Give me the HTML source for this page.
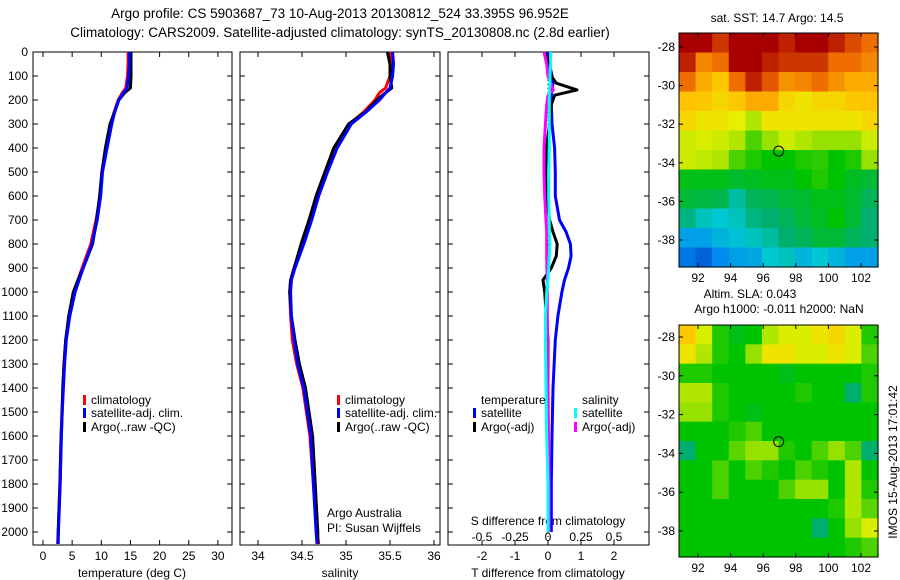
<!DOCTYPE html>
<html><head><meta charset="utf-8"><style>
body{margin:0;background:#fff;}
svg{display:block;font-family:"Liberation Sans",sans-serif;}
</style></head><body>
<svg id="fig" width="900" height="580" viewBox="0 0 900 580">
<text x="340" y="18" font-size="13.5" text-anchor="middle">Argo profile: CS 5903687_73 10-Aug-2013 20130812_524 33.395S 96.952E</text>
<text x="340" y="37" font-size="13.5" text-anchor="middle">Climatology: CARS2009. Satellite-adjusted climatology: synTS_20130808.nc (2.8d earlier)</text>
<text x="777" y="22" font-size="12" text-anchor="middle">sat. SST: 14.7 Argo: 14.5</text>
<text x="750" y="298" font-size="12" text-anchor="middle">Altim. SLA: 0.043</text>
<text x="779" y="313" font-size="12" text-anchor="middle">Argo h1000: -0.011 h2000: NaN</text>
<text transform="translate(897,462) rotate(-90)" font-size="12" text-anchor="middle">IMOS 15-Aug-2013 17:01:42</text>
<g id="layer"></g>
</svg>
<script>
// ---- data ----
const depthTicks=[0,100,200,300,400,500,600,700,800,900,1000,1100,1200,1300,1400,1500,1600,1700,1800,1900,2000];
const tempTicks=[0,5,10,15,20,25,30];
const salTicks=[34,34.5,35,35.5,36];
const tdiffTicks=[-2,-1,0,1,2];
const sdiffTicks=[-0.5,-0.25,0,0.25,0.5];
const sdiffTickLabels=["-0.5","-0.25","0","0.25","0.5"];
const lonTicks=[92,94,96,98,100,102];
const latTicks=[-28,-30,-32,-34,-36,-38];

const profDepth=[0,50,100,150,170,200,250,300,400,500,600,700,800,900,950,1000,1100,1200,1300,1400,1500,1600,1800,2000,2050];
const tempClim=[14.6,14.6,14.5,14.2,13.6,12.9,12.2,11.6,10.8,10.1,9.8,9.1,8.2,6.7,6.0,5.3,4.5,3.9,3.6,3.4,3.25,3.1,2.9,2.6,2.5];
const tempSat=[14.8,14.8,14.7,14.4,13.8,13.0,12.3,11.8,11.0,10.2,9.9,9.3,8.4,6.9,6.2,5.5,4.6,4.0,3.7,3.5,3.3,3.15,2.95,2.65,2.55];
const tempArgo=[15.1,15.1,15.1,15.0,14.0,13.0,12.3,11.5,10.7,10.1,9.7,9.2,8.5,6.9,6.0,5.2,4.4,3.9,3.6,3.4,3.3,3.1,2.9,2.6,2.6];
const salClim=[35.5,35.52,35.5,35.45,35.38,35.33,35.2,35.04,34.87,34.77,34.67,34.59,34.5,34.41,34.37,34.36,34.37,34.39,34.44,34.51,34.55,34.59,34.63,34.67,34.69];
const salSat=[35.53,35.54,35.53,35.5,35.45,35.38,35.23,35.06,34.9,34.79,34.69,34.61,34.52,34.42,34.38,34.37,34.38,34.41,34.45,34.52,34.56,34.6,34.63,34.66,34.67];
const salArgo=[35.47,35.5,35.5,35.52,35.45,35.35,35.22,35.03,34.86,34.76,34.66,34.58,34.49,34.41,34.37,34.36,34.38,34.42,34.47,34.54,34.58,34.62,34.65,34.68,34.68];

const diffDepth=[0,50,100,130,158,180,220,300,400,500,600,700,750,800,850,900,950,1000,1100,1200,1400,1600,1800,2000];
const tDiffSat=[0.0,0.05,0.12,0.15,0.12,0.1,0.1,0.12,0.2,0.22,0.22,0.35,0.55,0.68,0.7,0.62,0.5,0.42,0.3,0.22,0.15,0.12,0.1,0.1];
const tDiffArgo=[-0.1,0.05,0.1,0.25,0.88,0.2,0.1,0.05,-0.05,-0.07,-0.05,0.05,0.15,0.28,0.25,0.1,-0.15,-0.1,-0.05,0,0,0,0,0];
const sDiffArgo=[-0.03,-0.01,0.0,0.02,0.04,0.0,-0.01,-0.02,-0.03,-0.03,-0.025,-0.015,-0.01,-0.01,-0.01,-0.008,-0.005,-0.005,-0.005,-0.003,0,0.004,0.008,0.008];
const sDiffSat=[0.02,0.02,0.015,0.015,0.01,0.01,0.01,0.01,0.01,0.005,0.005,0.01,0.01,0.015,0.01,0.005,0,-0.01,-0.02,-0.02,-0.015,-0.01,0,0];

const sstGrid=[
[1,1,.95,1,1,1,.97,1,1,.97,.93,.9],
[.97,.88,.9,1,1,.97,.95,.95,.95,.9,.9,.88],
[.9,.85,.82,.9,.97,.92,.87,.88,.9,.87,.85,.85],
[.83,.82,.8,.82,.85,.85,.8,.78,.8,.8,.82,.83],
[.8,.78,.78,.76,.72,.78,.78,.78,.78,.78,.78,.8],
[.74,.75,.74,.72,.65,.7,.74,.72,.7,.7,.7,.74],
[.74,.73,.72,.65,.62,.6,.6,.62,.63,.6,.62,.7],
[.58,.58,.58,.56,.57,.58,.58,.6,.62,.6,.57,.55],
[.55,.54,.53,.45,.52,.53,.55,.56,.58,.58,.56,.52],
[.48,.42,.4,.42,.48,.5,.52,.55,.57,.6,.55,.5],
[.3,.3,.35,.38,.42,.45,.5,.52,.55,.55,.52,.5],
[.2,.15,.25,.3,.32,.4,.42,.35,.4,.35,.3,.3]];
const slaGrid=[
[.82,.75,.62,.58,.6,.72,.75,.75,.78,.8,.75,.62],
[.78,.72,.62,.6,.7,.78,.78,.75,.75,.78,.75,.65],
[.62,.62,.6,.6,.6,.6,.58,.6,.6,.6,.6,.62],
[.72,.72,.62,.6,.6,.6,.6,.62,.6,.6,.5,.62],
[.7,.7,.62,.6,.58,.6,.6,.6,.6,.6,.6,.6],
[.6,.6,.6,.62,.65,.6,.6,.6,.6,.6,.6,.6],
[.5,.6,.6,.66,.7,.7,.62,.6,.65,.7,.65,.5],
[.6,.6,.65,.6,.65,.62,.6,.65,.62,.6,.72,.6],
[.6,.6,.65,.6,.6,.6,.65,.7,.7,.6,.72,.62],
[.6,.6,.6,.6,.6,.6,.6,.6,.6,.62,.72,.66],
[.6,.6,.6,.6,.6,.6,.6,.6,.5,.6,.7,.75],
[.6,.6,.6,.6,.6,.6,.6,.6,.6,.6,.62,.65]];
const argoLon=96.952, argoLat=-33.395;

// ---- drawing ----
const NS="http://www.w3.org/2000/svg";
const L=document.getElementById('layer');
function mk(tag,at,parent){const e=document.createElementNS(NS,tag);for(const k in at)e.setAttribute(k,at[k]);(parent||L).appendChild(e);return e;}
function txt(x,y,s,anchor,size){const t=mk('text',{x:x,y:y,'font-size':size||12,'text-anchor':anchor||'middle'});t.textContent=s;return t;}

const pTop=52,pBot=545;
const yD=d=>pTop+d*0.24;
function line(x1,y1,x2,y2,w,c){return mk('line',{x1:x1,y1:y1,x2:x2,y2:y2,stroke:c||'#000','stroke-width':w||1});}

function panel(x0,x1,name){const r=mk('rect',{x:x0,y:pTop,width:x1-x0,height:pBot-pTop,fill:'none',stroke:'#000','stroke-width':1});


depthTicks.forEach(d=>{line(x0,yD(d),x0+5,yD(d));line(x1,yD(d),x1-5,yD(d));});}

const xT=v=>43+v*5.83, xS=v=>258+(v-34)*88, xTd=v=>548+v*33, xSd=v=>548+v*132;
panel(33,232,'temperature-panel');panel(240,440,'salinity-panel');panel(448,649,'difference-panel');
depthTicks.forEach(d=>{const t=txt(28,yD(d)+4,String(d),'end');

});
tempTicks.forEach(v=>{line(xT(v),pTop,xT(v),pTop+5);line(xT(v),pBot,xT(v),pBot-5);txt(xT(v),560,String(v));});
salTicks.forEach(v=>{line(xS(v),pTop,xS(v),pTop+5);line(xS(v),pBot,xS(v),pBot-5);txt(xS(v),560,String(v));});
tdiffTicks.forEach(v=>{line(xTd(v),pTop,xTd(v),pTop+5);line(xTd(v),pBot,xTd(v),pBot-5);txt(xTd(v),560,String(v));});
sdiffTicks.forEach((v,i)=>{txt(xSd(v),541,sdiffTickLabels[i]);});
let a=txt(132,577,'temperature (deg C)');
a=txt(340,577,'salinity');
a=txt(548,577,'T difference from climatology');
a=txt(548,525,'S difference from climatology');

function series(depths,vals,fx,color,w,name){const pts=depths.map((d,i)=>fx(vals[i]).toFixed(1)+','+yD(d).toFixed(1)).join(' ');
const p=mk('polyline',{points:pts,fill:'none',stroke:color,'stroke-width':w,'stroke-linejoin':'round'});

}
series(profDepth,tempClim,xT,'#f00',3,'temp-climatology-line');
series(profDepth,tempArgo,xT,'#000',3,'temp-argo-line');
series(profDepth,tempSat,xT,'#00f',3,'temp-satellite-line');
series(profDepth,salClim,xS,'#f00',3,'sal-climatology-line');
series(profDepth,salArgo,xS,'#000',3,'sal-argo-line');
series(profDepth,salSat,xS,'#00f',3,'sal-satellite-line');
mk('line',{x1:548,y1:pTop,x2:548,y2:pBot,stroke:'#000','stroke-width':1,'stroke-dasharray':'1,3'});
series(diffDepth,tDiffSat,xTd,'#00f',3,'tdiff-satellite-line');
series(diffDepth,tDiffArgo,xTd,'#000',3,'tdiff-argo-line');
series(diffDepth,sDiffArgo,xSd,'#f0f',3,'sdiff-argo-line');
series(diffDepth,sDiffSat,xSd,'#0ff',3,'sdiff-satellite-line');

function legend(x,y,color,label,name){mk('rect',{x:x,y:y-9,width:3,height:10,fill:color});const t=txt(x+8,y,label,'start');

}
legend(83,404,'#f00','climatology','legend-climatology');
legend(83,417,'#00f','satellite-adj. clim.','legend-satellite');
legend(83,431,'#000','Argo(..raw -QC)','legend-argo');
legend(337,404,'#f00','climatology','legend2-climatology');
legend(337,417,'#00f','satellite-adj. clim.','legend2-satellite');
legend(337,431,'#000','Argo(..raw -QC)','legend2-argo');
txt(481,404,'temperature','start');txt(582,404,'salinity','start');
legend(473,417,'#00f','satellite','legend-tdiff-satellite');
legend(473,431,'#000','Argo(-adj)','legend-tdiff-argo');
legend(574,417,'#0ff','satellite','legend-sdiff-satellite');
legend(574,431,'#f0f','Argo(-adj)','legend-sdiff-argo');
txt(327,517,'Argo Australia','start');txt(327,532,'PI: Susan Wijffels','start');

const stops=[[0,[0,40,180]],[0.25,[0,140,240]],[0.4,[0,200,210]],[0.5,[0,175,110]],[0.6,[0,195,0]],[0.7,[150,225,0]],[0.76,[232,240,0]],[0.83,[255,195,0]],[0.9,[240,110,0]],[1,[168,0,0]]];
function cmap(v){for(let i=1;i<stops.length;i++){if(v<=stops[i][0]){const a=stops[i-1],b=stops[i],t=(v-a[0])/(b[0]-a[0]);return 'rgb('+a[1].map((c,k)=>Math.round(c+(b[1][k]-c)*t)).join(',')+')';}}return 'rgb(168,0,0)';}

function map(grid,x0,x1,y0,y1,lat28,lat38,name){
 const lonX=lo=>698+(lo-92)*16.3, latY=la=>lat28+(-28-la)*(lat38-lat28)/10;
 const rows=grid.length,cols=grid[0].length,cw=(x1-x0)/cols,ch=(y1-y0)/rows;
 grid.forEach((row,r)=>row.forEach((v,c)=>{const e=mk('rect',{x:x0+c*cw,y:y0+r*ch,width:cw+0.6,height:ch+0.6,fill:cmap(v)});
  
  }));
 const f=mk('rect',{x:x0,y:y0,width:x1-x0,height:y1-y0,fill:'none',stroke:'#000'});
 
 
 lonTicks.forEach(lo=>{line(lonX(lo),y0,lonX(lo),y0+4);line(lonX(lo),y1,lonX(lo),y1-4);txt(lonX(lo),y1+15,String(lo));});
 latTicks.forEach(la=>{line(x0,latY(la),x0+4,latY(la));line(x1,latY(la),x1-4,latY(la));txt(x0-4,latY(la)+4,String(la),'end');});
 const m=mk('circle',{cx:lonX(argoLon),cy:latY(argoLat),r:5,fill:'none',stroke:'#000'});
 
 
}
map(sstGrid,679,878,33,267,47,240,'sst-map');
map(slaGrid,679,878,325,557,337,531,'sla-map');
</script>
</body></html>
